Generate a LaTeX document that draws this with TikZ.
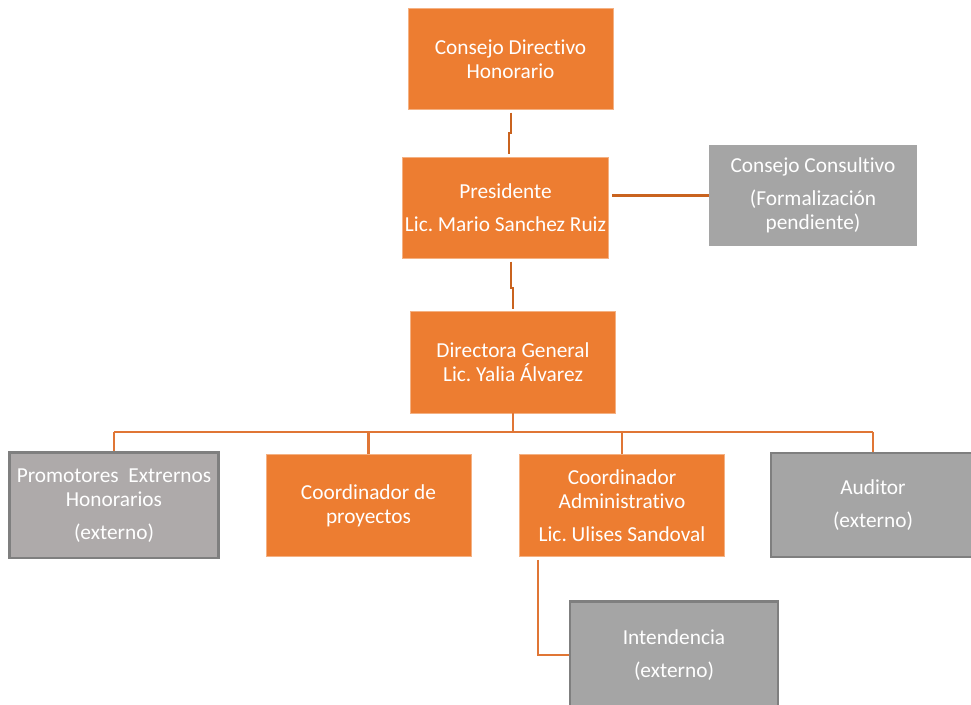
\documentclass[tikz,border=0pt]{standalone}
\usepackage{fontspec}
\setmainfont{Carlito}[Ligatures=NoCommon]
\usepackage{tikz}
\usetikzlibrary{positioning}

\definecolor{orgfill}{HTML}{ED7D31}
\definecolor{orgline}{HTML}{C9631F}
\definecolor{busline}{HTML}{E07635}
\definecolor{gryfill}{HTML}{A5A5A5}
\definecolor{promfill}{HTML}{AEAAAA}
\definecolor{grydraw}{HTML}{7F7F7F}

\begin{document}
\frenchspacing
\begin{tikzpicture}[
  x=0.75pt, y=-0.75pt,
  font=\fontsize{16}{18}\selectfont,
  block/.style={
    rectangle, align=center,
    text=white, inner sep=2pt,
    minimum width=154pt,
    minimum height=76pt
  },
  orgbox/.style={block, fill=orgfill, draw=orgfill!60!white, line width=0.5pt},
  grybox/.style={block, fill=gryfill},
  extbox/.style={block, fill=gryfill, draw=grydraw, line width=2pt},
  link/.style={draw=orgline, line width=2pt, shorten <=2pt, shorten >=2pt},
  buslink/.style={draw=busline, line width=2pt},
]
\useasboundingbox (0,0) rectangle (971,705);

% --- Top ---
\node[orgbox] (CDH) at (510.5,59) {Consejo Directivo\\ Honorario};
\node[orgbox] (PRES) at (505.5,208) {Presidente\\[6.5pt] Lic. Mario Sanchez Ruiz};
\node[grybox, minimum width=156pt] (CC) at (813,195.5) {Consejo Consultivo\\[6.5pt] (Formalización\\ pendiente)};

% --- Direction ---
\node[orgbox] (DG) at (513,362.5) {Directora General\\ Lic. Yalia Álvarez};

% --- Second level ---
\node[extbox, fill=promfill, minimum width=157pt, minimum height=79pt] (PROM) at (114,505.5) {Promotores\ \ Extrernos\\ Honorarios\\[6.5pt] (externo)};
\node[orgbox] (CP) at (368.5,505.5) {Coordinador de\\ proyectos};
\node[orgbox] (CA) at (622,505.5) {Coordinador\\ Administrativo\\[6.5pt] Lic. Ulises Sandoval};
\node[extbox, minimum width=153pt, minimum height=78pt] (AUD) at (873,505) {Auditor\\[6.5pt] (externo)};

% --- Third level ---
\node[extbox, minimum width=156pt, minimum height=80pt] (INT) at (674,655) {Intendencia\\[6.5pt] (externo)};

% --- Connectors ---
\coordinate (J1) at (509,133);
\coordinate (J2) at (511,288);
\draw[link] (CDH.south -| 511,0) -- (511,133) -- (J1) -- (J1 |- PRES.north);
\draw[link] (PRES.south -| J2) -- (J2) -| (DG.north);
\draw[link, shorten <=0pt] (CC.west) -- (CC.west -| PRES.east);

\coordinate (BUS) at (513,432);
\draw[buslink] (DG.south) -- (BUS);
\draw[buslink] (PROM.north |- BUS) -- (AUD.north |- BUS);
\foreach \n in {PROM,CP,CA,AUD}
  \draw[buslink] (\n.north) -- (\n.north |- BUS);

\coordinate (J3) at (538,560);
\draw[buslink] (J3) |- (INT.west);

\end{tikzpicture}
\end{document}
